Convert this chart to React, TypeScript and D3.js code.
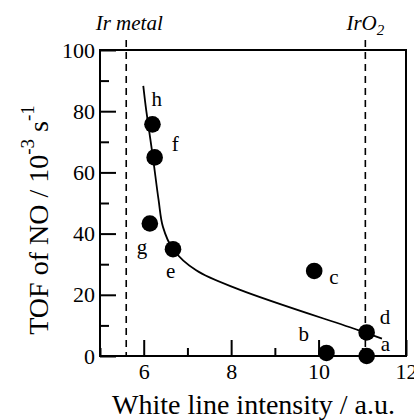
import React, { useEffect, useRef } from "react";
import * as d3 from "d3";

const width = 414;
const height = 420;

// samples a-h
const sampleNames = ["a", "b", "c", "d", "e", "f", "g", "h"];
const whiteLine = [11.1, 10.18, 9.9, 11.1, 6.67, 6.25, 6.14, 6.2];
const tofNO = [0, 1.0, 27.8, 7.7, 34.9, 64.9, 43.3, 75.7];

// hand-drawn trend line
const trendX = [5.99, 6.06, 6.21, 6.34, 6.44, 6.67, 7.2, 8.19, 10.92, 11.45];
const trendY = [88.3, 80, 65, 51, 42.2, 34.9, 28, 21.7, 8.4, 5.7];

// reference lines
const referenceNames = ["Ir metal", "IrO2"];
const referenceX = [5.6, 11.07];

const xTicks = [6, 8, 10, 12];
const xMinorTicks = [5, 7, 9, 11];
const yTicks = [0, 20, 40, 60, 80, 100];
const yMinorTicks = [10, 30, 50, 70, 90];

const serif = "Liberation Serif, Tinos, Times New Roman, Times, serif";

// where each letter sits next to its dot (px)
const labelOffset: Record<string, [number, number]> = {
  a: [14, -5],
  b: [-28, -12],
  c: [15, 13],
  d: [13, -8],
  e: [-7, 29],
  f: [17, -6],
  g: [-13, 30],
  h: [-1, -18],
};

const App = () => {
  const ref = useRef<SVGSVGElement>(null);

  useEffect(() => {
    const svg = d3.select(ref.current);
    svg.selectAll("*").remove();

    const x = d3.scaleLinear().domain([5, 12]).range([100, 406]);
    const y = d3.scaleLinear().domain([0, 100]).range([356, 50]);

    // dashed reference lines
    svg
      .append("g")
      .selectAll("line")
      .data(referenceX)
      .join("line")
      .attr("x1", (d) => x(d))
      .attr("x2", (d) => x(d))
      .attr("y1", 40)
      .attr("y2", y(0))
      .attr("stroke", "#000")
      .attr("stroke-width", 1.6)
      .attr("stroke-dasharray", "7,5");

    // reference titles
    const titles = svg
      .append("g")
      .selectAll("text")
      .data(referenceNames)
      .join("text")
      .attr("x", (d, i) => x(referenceX[i]) + (i === 0 ? 3 : 0))
      .attr("y", 30)
      .attr("text-anchor", "middle")
      .style("font-family", serif)
      .attr("font-style", "italic")
      .attr("font-size", 21);
    titles.each(function (d) {
      const t = d3.select(this);
      if (d === "IrO2") {
        t.append("tspan").text("IrO");
        t.append("tspan").text("2").attr("font-size", 15).attr("dy", 5);
      } else {
        t.text(d);
      }
    });

    // axes
    const styleAxis = (g: any) => {
      g.attr("font-family", null).attr("font-size", null);
      g.select(".domain").remove();
      g.selectAll("line").attr("stroke", "#000").attr("stroke-width", 2);
      g.selectAll("text")
        .attr("fill", "#000")
        .style("font-family", serif)
        .attr("font-size", 22);
    };

    svg
      .append("g")
      .attr("transform", `translate(0,${y(0)})`)
      .call(d3.axisBottom(x).tickValues(xTicks).tickSize(-16).tickPadding(7).tickFormat(d3.format("d")))
      .call(styleAxis);
    svg
      .append("g")
      .attr("transform", `translate(0,${y(0)})`)
      .call(d3.axisBottom(x).tickValues(xMinorTicks).tickSize(-8).tickFormat(() => ""))
      .call(styleAxis);
    svg
      .append("g")
      .attr("transform", `translate(${x(5)},0)`)
      .call(d3.axisLeft(y).tickValues(yTicks).tickSize(-16).tickPadding(5).tickFormat(d3.format("d")))
      .call(styleAxis);
    svg
      .append("g")
      .attr("transform", `translate(${x(5)},0)`)
      .call(d3.axisLeft(y).tickValues(yMinorTicks).tickSize(-9).tickFormat(() => ""))
      .call(styleAxis);

    // frame
    svg
      .append("rect")
      .attr("x", x(5))
      .attr("y", y(100))
      .attr("width", x(12) - x(5))
      .attr("height", y(0) - y(100))
      .attr("fill", "none")
      .attr("stroke", "#000")
      .attr("stroke-width", 2);

    // trend curve
    const line = d3
      .line<number>()
      .x((d) => x(trendX[d]))
      .y((d) => y(trendY[d]))
      .curve(d3.curveCatmullRom.alpha(0.5));
    svg
      .append("path")
      .attr("d", line(d3.range(trendX.length)))
      .attr("fill", "none")
      .attr("stroke", "#000")
      .attr("stroke-width", 1.8);

    // points
    svg
      .append("g")
      .selectAll("circle")
      .data(sampleNames)
      .join("circle")
      .attr("cx", (d, i) => x(whiteLine[i]))
      .attr("cy", (d, i) => y(tofNO[i]))
      .attr("r", 8.3)
      .attr("fill", "#000");

    svg
      .append("g")
      .selectAll("text")
      .data(sampleNames)
      .join("text")
      .text((d) => d)
      .attr("x", (d, i) => x(whiteLine[i]) + labelOffset[d][0])
      .attr("y", (d, i) => y(tofNO[i]) + labelOffset[d][1])
      .style("font-family", serif)
      .attr("font-size", 21);

    // axis titles
    svg
      .append("text")
      .attr("x", 253.5)
      .attr("y", 414)
      .attr("text-anchor", "middle")
      .style("font-family", serif)
      .attr("font-size", 28)
      .text("White line intensity / a.u.");

    const yLabel = svg
      .append("text")
      .attr("transform", "rotate(-90)")
      .attr("x", -220)
      .attr("y", 48)
      .attr("text-anchor", "middle")
      .style("font-family", serif)
      .attr("font-size", 28);
    yLabel.append("tspan").text("TOF of NO / 10");
    yLabel.append("tspan").text("-3").attr("font-size", 19).attr("dy", -14);
    yLabel.append("tspan").text(" s").attr("dy", 14);
    yLabel.append("tspan").text("-1").attr("font-size", 19).attr("dy", -14);
  }, []);

  return (
    <svg
      ref={ref}
      width={width}
      height={height}
      viewBox={`0 0 ${width} ${height}`}
      style={{ position: "absolute", left: 0, top: 0, background: "#fff" }}
    ></svg>
  );
};

export default App;
